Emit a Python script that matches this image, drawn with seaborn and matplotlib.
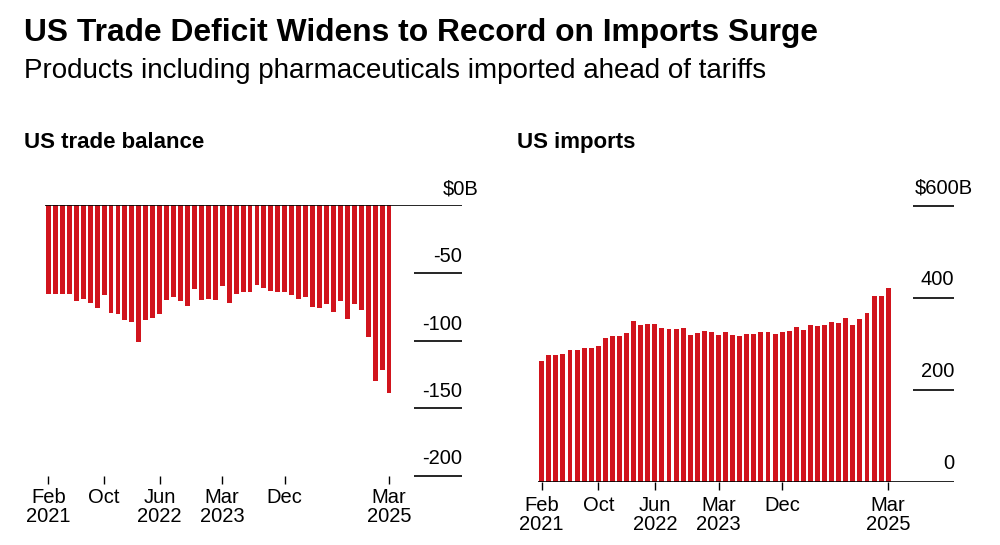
import numpy as np
import pandas as pd
import matplotlib
matplotlib.use("Agg")
import matplotlib.pyplot as plt
import seaborn as sns
from matplotlib.transforms import offset_copy

# ---------------- data ----------------
months = pd.date_range("2021-02-01", "2025-03-01", freq="MS").strftime("%Y-%m").tolist()

balance = [-65.7, -65.4, -65.9, -65.9, -70.8, -69.1, -72.3, -76.2, -66.4, -79.4,
           -80.1, -84.8, -86.5, -101.0, -84.6, -83.3, -80.6, -70.3, -67.9, -70.6,
           -74.5, -61.8, -70.1, -69.1, -69.9, -59.8, -72.1, -65.2, -64.2, -64.0,
           -58.8, -61.3, -63.7, -64.0, -64.2, -66.4, -68.9, -67.9, -75.2, -76.0,
           -73.3, -79.2, -70.6, -84.3, -72.8, -77.2, -97.1, -129.7, -122.1, -139.2]

imports = [262, 275, 275, 278, 286, 286, 291, 291, 296, 312,
           317, 317, 324, 349, 341, 342, 343, 335, 333, 333,
           335, 319, 324, 328, 325, 319, 325, 318, 317, 320,
           320, 325, 326, 322, 326, 328, 336, 330, 340, 339,
           341, 348, 345, 356, 341, 353, 366, 403, 403, 420]

balance_ticks = [0, -50, -100, -150, -200]
balance_tick_labels = ["$0B", "-50", "-100", "-150", "-200"]
imports_ticks = [0, 200, 400, 600]
imports_tick_labels = ["0", "200", "400", "$600B"]

x_tick_months = ["2021-02", "2021-10", "2022-06", "2023-03", "2023-12", "2025-03"]
x_tick_labels = ["Feb\n2021", "Oct", "Jun\n2022", "Mar\n2023", "Dec", "Mar\n2025"]

title = "US Trade Deficit Widens to Record on Imports Surge"
subtitle = "Products including pharmaceuticals imported ahead of tariffs"
left_title = "US trade balance"
right_title = "US imports"

df = pd.DataFrame({"month": months, "balance": balance, "imports": imports})

# ---------------- style ----------------
sns.set_theme(style="white")
plt.rcParams["font.family"] = ["Liberation Sans", "DejaVu Sans"]
plt.rcParams["text.color"] = "black"
plt.rcParams["xtick.color"] = "black"
plt.rcParams["xtick.labelcolor"] = "black"
RED = "#d1141d"
W, H = 1000, 545
FS = 14.5

fig = plt.figure(figsize=(W / 100, H / 100), dpi=100)


def px_axes(x0, y_top, x1, y_bot):
    return fig.add_axes([x0 / W, 1 - y_bot / H, (x1 - x0) / W, (y_bot - y_top) / H])


def style_axis(ax, ticks, labels, frac0, label_dy, unit_dx, xpad, line_ticks):
    for s in ax.spines.values():
        s.set_visible(False)
    ax.set_xlabel("")
    ax.set_ylabel("")
    ax.set_yticks([])
    pos = [months.index(m) for m in x_tick_months]
    ax.set_xticks(pos)
    ax.set_xticklabels(x_tick_labels, fontsize=FS, linespacing=0.98, color="black")
    ax.tick_params(axis="x", bottom=True, direction="out", length=5.8, width=1.0,
                   color="black", pad=xpad)
    yt = ax.get_yaxis_transform()
    ax.hlines(line_ticks, frac0, 1.0, transform=yt, color="black", lw=1.2, clip_on=False)
    for v, lab in zip(ticks, labels):
        dx = unit_dx if lab.endswith("B") else 0
        tr = offset_copy(yt, fig=fig, x=dx, y=label_dy, units="dots")
        ax.text(1.0, v, lab, transform=tr, ha="right", va="baseline",
                fontsize=FS, color="black", clip_on=False)


# ---- left: trade balance ----
axL = px_axes(45, 205.5, 462, 475.5)
sns.barplot(data=df, x="month", y="balance", color=RED, saturation=1, width=0.7,
            ax=axL, edgecolor="none")
axL.set_xlim(-0.5, 59.5)
axL.set_ylim(-200, 0)
axL.axhline(0, color="black", lw=1.2)
style_axis(axL, balance_ticks, balance_tick_labels, (414 - 45) / (462 - 45), 11, 17, 3.5,
           balance_ticks[1:])

# ---- right: imports ----
axR = px_axes(538.2, 205.7, 954, 481.7)
sns.barplot(data=df, x="month", y="imports", color=RED, saturation=1, width=0.7,
            ax=axR, edgecolor="none")
axR.set_xlim(-0.5, 58.3)
axR.set_ylim(0, 600)
axR.axhline(0, color="black", lw=1.2)
style_axis(axR, imports_ticks, imports_tick_labels, (913 - 538.2) / (954 - 538.2), 12.5, 19, 4.5,
           imports_ticks[1:])

# ---- titles ----
fig.text(24 / W, 1 - 41 / H, title, fontsize=22.9, fontweight="bold", ha="left", va="baseline")
fig.text(24 / W, 1 - 78 / H, subtitle, fontsize=20, ha="left", va="baseline")
fig.text(24 / W, 1 - 148 / H, left_title, fontsize=16, fontweight="bold", ha="left", va="baseline")
fig.text(517 / W, 1 - 148 / H, right_title, fontsize=16, fontweight="bold", ha="left", va="baseline")

fig.savefig("out.png", dpi=100, facecolor="white")
